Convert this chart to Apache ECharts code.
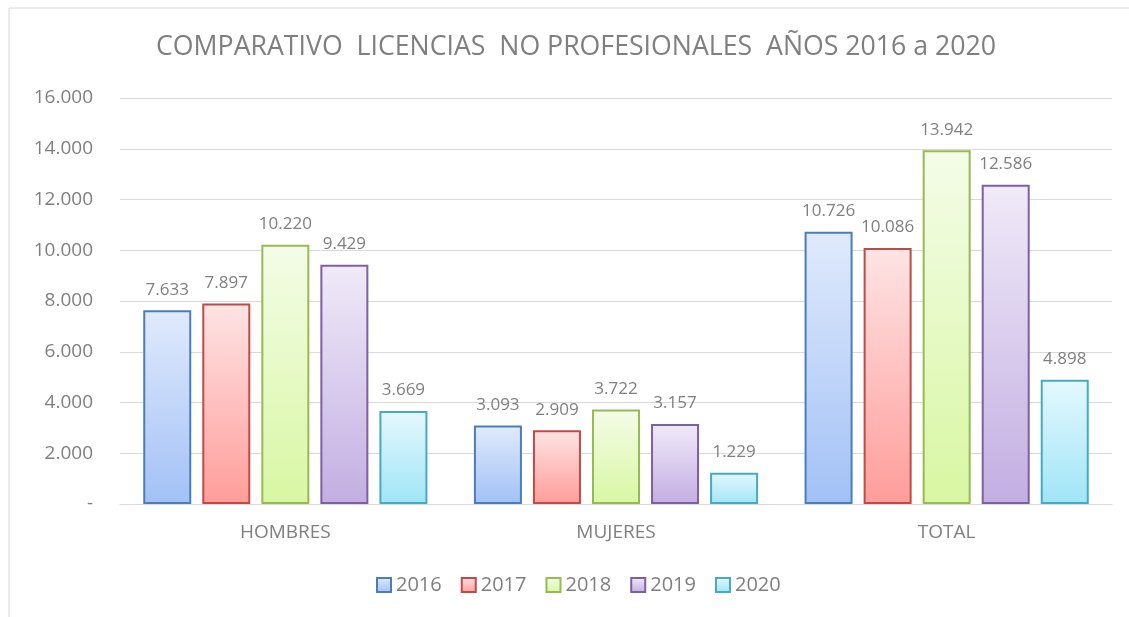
<!DOCTYPE html>
<html>
<head>
<meta charset="utf-8">
<script src="https://cdn.jsdelivr.net/npm/echarts@6/dist/echarts.min.js"></script>
<style>
  html, body { margin: 0; padding: 0; background: #fff; }
  #chart { width: 1129px; height: 617px; }
</style>
</head>
<body>
<div id="chart"></div>
<script>
// datos del gráfico
const categories = ['HOMBRES', 'MUJERES', 'TOTAL']
const years = ['2016', '2017', '2018', '2019', '2020']
const v2016 = [7633, 3093, 10726]
const v2017 = [7897, 2909, 10086]
const v2018 = [10220, 3722, 13942]
const v2019 = [9429, 3157, 12586]
const v2020 = [3669, 1229, 4898]
const yTicks = [0, 2000, 4000, 6000, 8000, 10000, 12000, 14000, 16000]

const values = [v2016, v2017, v2018, v2019, v2020]
// borde, arriba, abajo
const palette = [
  ['#4a7ebb', '#e0eafc', '#a2c1f6'],
  ['#be4b48', '#fde4e4', '#ff9d9a'],
  ['#98b954', '#f4fce8', '#d8f7a2'],
  ['#7d60a0', '#f0eaf8', '#c3aee2'],
  ['#46aac5', '#e5f8fd', '#9fe5f7']
]
const FONT = '"Open Sans", sans-serif'
const GRAY = '#7f7f7f'

function fmt(v) {
  if (v === 0) return '-'
  return String(v).replace(/\B(?=(\d{3})+(?!\d))/g, '.')
}

const chart = echarts.init(document.getElementById('chart'))

const series = years.map((y, i) => ({
  name: y,
  type: 'bar',
  data: values[i],
  barWidth: 48,
  barGap: '23%',
  itemStyle: {
    borderColor: palette[i][0],
    borderWidth: 2,
    color: new echarts.graphic.LinearGradient(0, 0, 0, 1, [
      { offset: 0, color: palette[i][1] },
      { offset: 1, color: palette[i][2] }
    ])
  },
  label: {
    show: true,
    position: 'top',
    distance: 12,
    color: GRAY,
    fontSize: 17,
    fontFamily: FONT,
    formatter: p => fmt(p.value)
  }
}))

chart.setOption({
  animation: false,
  backgroundColor: '#fff',
  title: {
    text: 'COMPARATIVO  LICENCIAS  NO PROFESIONALES  AÑOS 2016 a 2020',
    left: 151,
    top: 29,
    textStyle: { color: GRAY, fontSize: 26.7, fontWeight: 'normal', fontFamily: FONT }
  },
  graphic: [
    { type: 'line', shape: { x1: 9, y1: 8, x2: 1129, y2: 8 }, style: { stroke: '#d9d9d9', lineWidth: 1 } },
    { type: 'line', shape: { x1: 9, y1: 8, x2: 9, y2: 617 }, style: { stroke: '#d9d9d9', lineWidth: 1 } }
  ],
  legend: {
    data: years,
    top: 570,
    left: 371,
    icon: 'rect',
    itemWidth: 14,
    itemHeight: 14,
    itemGap: 19,
    textStyle: { color: GRAY, fontSize: 20, fontFamily: FONT }
  },
  grid: { left: 120, right: 17, top: 98, bottom: 113 },
  xAxis: {
    type: 'category',
    data: categories,
    axisLine: { lineStyle: { color: '#d9d9d9' } },
    axisTick: { show: false },
    axisLabel: { color: GRAY, fontSize: 19, fontFamily: FONT, margin: 19 }
  },
  yAxis: {
    type: 'value',
    min: yTicks[0],
    max: yTicks[yTicks.length - 1],
    interval: yTicks[1] - yTicks[0],
    axisLine: { show: false },
    axisTick: { show: false },
    splitLine: { lineStyle: { color: '#d9d9d9' } },
    axisLabel: { color: GRAY, fontSize: 19, fontFamily: FONT, margin: 27, formatter: fmt }
  },
  series: series
})
</script>
</body>
</html>
